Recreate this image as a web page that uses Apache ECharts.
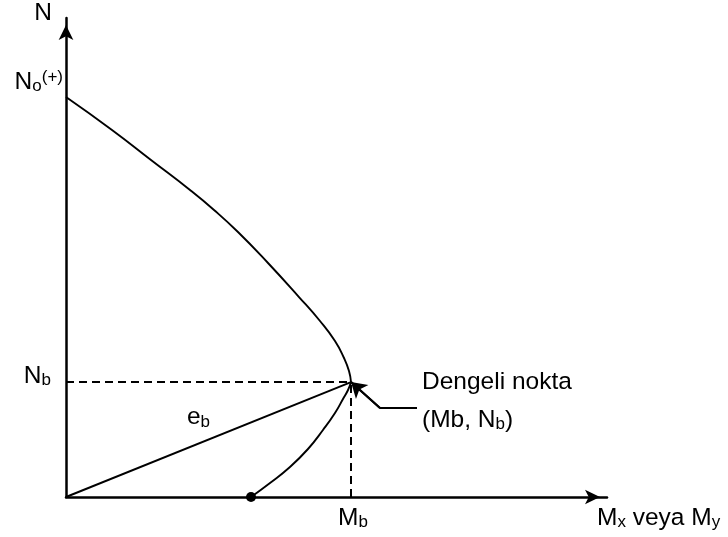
<!DOCTYPE html>
<html>
<head>
<meta charset="utf-8">
<script src="https://cdn.jsdelivr.net/npm/echarts@6/dist/echarts.min.js"></script>
<style>
html,body{margin:0;padding:0;background:#fff;}
#chart{width:728px;height:537px;}
</style>
</head>
<body>
<div id="chart"></div>
<script>
// Interaction curve (M, N), axes normalised 0..100
const upperM = [0, 8.50, 15.71, 22.92, 27.36, 31.79, 37.34, 43.07, 46.95, 49.72, 51.39, 52.31, 52.68];
const upperN = [83.5, 76.62, 70.35, 64.09, 59.92, 55.32, 48.85, 41.75, 36.74, 32.57, 29.02, 26.30, 24.0];
const lowerM = [52.68, 52.13, 51.20, 49.72, 47.50, 44.73, 41.40, 37.71, 34.20];
const lowerN = [24.0, 22.34, 20.46, 17.54, 13.99, 10.02, 6.26, 2.92, 0];
const N0 = 83.5;           // No(+)
const Mb = 52.68;          // balanced moment
const Nb = 24.0;           // balanced axial load
const M0point = [34.2, 0]; // curve meets M axis
const leaderM = [64.88, 58.04, Mb];
const leaderN = [18.6, 18.6, Nb];
const axisMax = 100;

// label texts (rich)
const labelTexts = {
  N: '{t|N}',
  N0: '{t|N}{s|o}{p|(+)}',
  Nb: '{t|N}{s|b}',
  eb: '{t|e}{s|b}',
  dengeli: '{t|Dengeli nokta}',
  mbnb: '{t|(Mb, N}{s|b}{t|)}',
  Mb: '{t|M}{s|b}',
  Mx: '{t|M}{s|x}{t| veya M}{s|y}'
};

const zip = (a, b) => a.map((v, i) => [v, b[i]]);
const font = "'Liberation Sans', Arial, sans-serif";
const ink = '#000';
const rich = {
  t: {fontSize: 24.5, lineHeight: 26, color: ink, fontFamily: font},
  s: {fontSize: 17, lineHeight: 14, color: ink, fontFamily: font, verticalAlign: 'bottom'},
  p: {fontSize: 17, lineHeight: 14, color: ink, fontFamily: font, verticalAlign: 'top'}
};

function lbl(pos, text, align, offset) {
  return {
    value: pos,
    label: {show: true, position: 'inside', formatter: text, align: align,
            verticalAlign: 'middle', offset: offset, rich: rich}
  };
}

const labelData = [
  lbl([0, axisMax], labelTexts.N, 'center', [-23, -5]),
  lbl([0, N0], labelTexts.N0, 'right', [-3, -15]),
  lbl([0, Nb], labelTexts.Nb, 'right', [-15, -6]),
  lbl([Mb / 2, Nb / 2], labelTexts.eb, 'center', [-10, -22]),
  lbl([Mb, Nb], labelTexts.dengeli, 'left', [71, 0]),
  lbl([Mb, Nb], labelTexts.mbnb, 'left', [71, 38]),
  lbl([Mb, 0], labelTexts.Mb, 'center', [2, 21]),
  lbl([axisMax, 0], labelTexts.Mx, 'left', [-10, 21])
];

const chart = echarts.init(document.getElementById('chart'), null, {renderer: 'canvas'});
const axisLineCommon = {
  show: true,
  symbol: ['none', 'arrow'],
  symbolSize: [11, 15],
  symbolOffset: [0, -7],
  lineStyle: {color: ink, width: 2.5}
};
chart.setOption({
  animation: false,
  backgroundColor: '#fff',
  grid: {left: 66, right: 121, top: 18, bottom: 40},
  xAxis: {type: 'value', min: 0, max: axisMax, axisLine: axisLineCommon,
          axisTick: {show: false}, axisLabel: {show: false}, splitLine: {show: false}},
  yAxis: {type: 'value', min: 0, max: axisMax, axisLine: axisLineCommon,
          axisTick: {show: false}, axisLabel: {show: false}, splitLine: {show: false}},
  series: [
    {type: 'line', data: zip(upperM, upperN), smooth: 0.5, symbol: 'none',
     lineStyle: {color: ink, width: 1.9}},
    {type: 'line', data: zip(lowerM, lowerN), smooth: 0.5, symbol: 'none',
     lineStyle: {color: ink, width: 1.9}},
    {type: 'line', data: [[0, 0], [Mb, Nb]], symbol: 'none',
     lineStyle: {color: ink, width: 1.9}},
    {type: 'line', data: [[0, Nb], [Mb, Nb]], symbol: 'none',
     lineStyle: {color: ink, width: 2, type: [8, 5]}},
    {type: 'line', data: [[Mb, 0], [Mb, Nb]], symbol: 'none',
     lineStyle: {color: ink, width: 2, type: [8, 5]}},
    {type: 'line', data: zip(leaderM, leaderN), symbol: 'none',
     lineStyle: {color: ink, width: 2},
     markLine: {silent: true, symbol: ['none', 'arrow'], symbolSize: [14, 15],
       label: {show: false},
       lineStyle: {color: ink, width: 2, type: 'solid'},
       data: [[{coord: [leaderM[1], leaderN[1]]}, {coord: [leaderM[2], leaderN[2]]}]]}},
    {type: 'scatter', data: [M0point], symbol: 'circle', symbolSize: 10,
     itemStyle: {color: ink, opacity: 1}},
    {type: 'scatter', data: labelData, symbolSize: 0,
     itemStyle: {color: 'rgba(0,0,0,0)', opacity: 1}, z: 10}
  ]
});
</script>
</body>
</html>
